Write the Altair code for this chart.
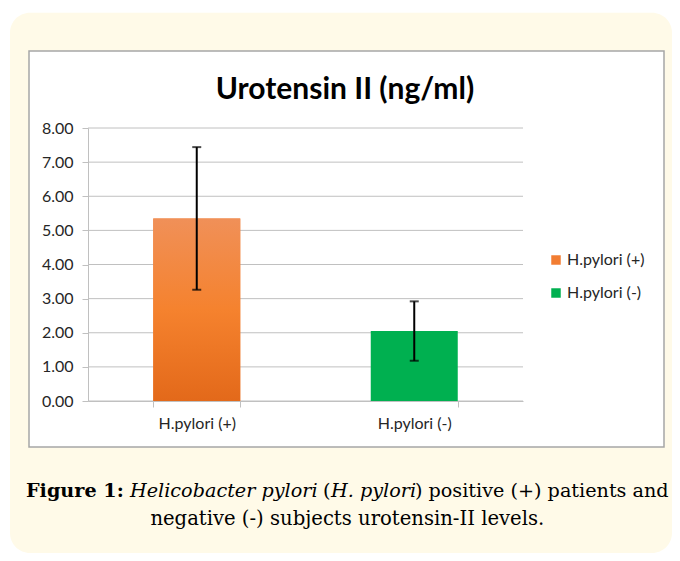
import altair as alt
import pandas as pd

# ---- data ----
categories = ["H.pylori (+)", "H.pylori (-)"]
means = [5.35, 2.05]
sds = [2.09, 0.87]
y_ticks = [0, 1, 2, 3, 4, 5, 6, 7, 8]
bar_colors = ["#F27D32", "#00B050"]
chart_title = "Urotensin II (ng/ml)"
caption_line1 = ["Figure 1:", "Helicobacter pylori", "(", "H. pylori", ")", "positive (+) patients and"]
caption_line1_style = ["bold", "italic", "normal", "italic", "normal", "normal"]
caption_line2 = "negative (-) subjects urotensin-II levels."

df = pd.DataFrame({"group": categories, "mean": means, "sd": sds})
df["lo"] = df["mean"] - df["sd"]
df["hi"] = df["mean"] + df["sd"]

W, H = 435, 273
GRID = "#C0C0C0"
TXT = "#262626"

x_scale = alt.Scale(domain=categories, paddingInner=0.6, paddingOuter=0.3)
y_scale = alt.Scale(domain=[0, 8], nice=False, zero=True)

x_axis = alt.Axis(title=None, labelAngle=0, tickBand="extent", grid=False,
                  domainColor=GRID, tickColor=GRID, tickSize=6, labelPadding=8,
                  labelFont="Lato", labelFontSize=16, labelColor=TXT, zindex=1)
y_axis = alt.Axis(title=None, values=y_ticks, tickCount=9, format=".2f", grid=False,
                  labelOverlap=False,
                  domainColor=GRID, tickColor=GRID, tickSize=6, labelPadding=9,
                  labelFont="Lato", labelFontSize=16, labelColor=TXT, zindex=1)

one = pd.DataFrame({"k": [0]})

# background panels
beige = alt.Chart(one).mark_rect(fill="#FFFAE8", cornerRadius=20).encode(
    x=alt.value(-78), x2=alt.value(584), y=alt.value(-115.3), y2=alt.value(425))
white = alt.Chart(one).mark_rect(fill="white", stroke="#A6A6A6", strokeWidth=1.5).encode(
    x=alt.value(-59), x2=alt.value(576), y=alt.value(-77), y2=alt.value(319))

grid = alt.Chart(pd.DataFrame({"v": y_ticks})).mark_rule(color=GRID, strokeWidth=1).encode(
    y=alt.Y("v:Q", scale=y_scale, axis=y_axis))

bars = alt.Chart(df).mark_bar().encode(
    x=alt.X("group:N", sort=categories, scale=x_scale, axis=x_axis),
    y=alt.Y("mean:Q", scale=y_scale),
    color=alt.Color("group:N", sort=categories,
                    scale=alt.Scale(domain=categories, range=bar_colors),
                    legend=alt.Legend(title=None, orient="none", legendX=460, legendY=124,
                                      symbolType="square", symbolSize=90, symbolStrokeWidth=0,
                                      labelFont="Lato", labelFontSize=16, labelColor=TXT,
                                      rowPadding=17, labelOffset=3, padding=0)),
)

orange_grad = {
    "gradient": "linear", "x1": 0, "y1": 0, "x2": 0, "y2": 1,
    "stops": [
        {"offset": 0, "color": "#F09058"},
        {"offset": 0.5, "color": "#F5822E"},
        {"offset": 1, "color": "#E3691A"},
    ],
}
bar_grad = alt.Chart(df).transform_filter(
    alt.datum.group == categories[0]
).mark_bar(fill=orange_grad).encode(
    x=alt.X("group:N", sort=categories, scale=x_scale),
    y=alt.Y("mean:Q", scale=y_scale),
)

err_rule = alt.Chart(df).mark_rule(color="black", strokeWidth=2).encode(
    x=alt.X("group:N", sort=categories, scale=x_scale),
    y=alt.Y("lo:Q", scale=y_scale), y2="hi:Q")
err_lo = alt.Chart(df).mark_tick(color="black", thickness=2, size=9).encode(
    x=alt.X("group:N", sort=categories, scale=x_scale),
    y=alt.Y("lo:Q", scale=y_scale))
err_hi = alt.Chart(df).mark_tick(color="black", thickness=2, size=9).encode(
    x=alt.X("group:N", sort=categories, scale=x_scale),
    y=alt.Y("hi:Q", scale=y_scale))

title = alt.Chart(pd.DataFrame({"t": [chart_title]})).mark_text(
    font="Lato", fontWeight="bold", fontSize=30, color="black", align="center", baseline="alphabetic"
).encode(x=alt.value(257), y=alt.value(-29), text="t:N")

# caption segments (left edges, laid out to match the reference)
seg_x = [-62, 42, 235, 243, 327, 340.5]
cap_layers = []
for txt, sty, xx in zip(caption_line1, caption_line1_style, seg_x):
    cap_layers.append(
        alt.Chart(pd.DataFrame({"t": [txt]})).mark_text(
            font="DejaVu Serif", fontSize=19.2, color="black", align="left", baseline="alphabetic",
            fontWeight="bold" if sty == "bold" else "normal",
            fontStyle="italic" if sty == "italic" else "normal",
        ).encode(x=alt.value(xx), y=alt.value(368.7), text="t:N")
    )
cap2 = alt.Chart(pd.DataFrame({"t": [caption_line2]})).mark_text(
    font="DejaVu Serif", fontSize=19.6, color="black", align="center", baseline="alphabetic"
).encode(x=alt.value(259.3), y=alt.value(397), text="t:N")

chart = alt.layer(
    beige, white, grid, bars, bar_grad, err_rule, err_lo, err_hi, title, *cap_layers, cap2
).properties(
    width=W, height=H,
    autosize=alt.AutoSizeParams(type="none"),
    padding={"left": 80, "top": 120, "right": 149, "bottom": 152},
).configure_view(stroke=None).configure(background="white")

chart.save("out.html", embed_options={"renderer": "svg", "actions": False})
